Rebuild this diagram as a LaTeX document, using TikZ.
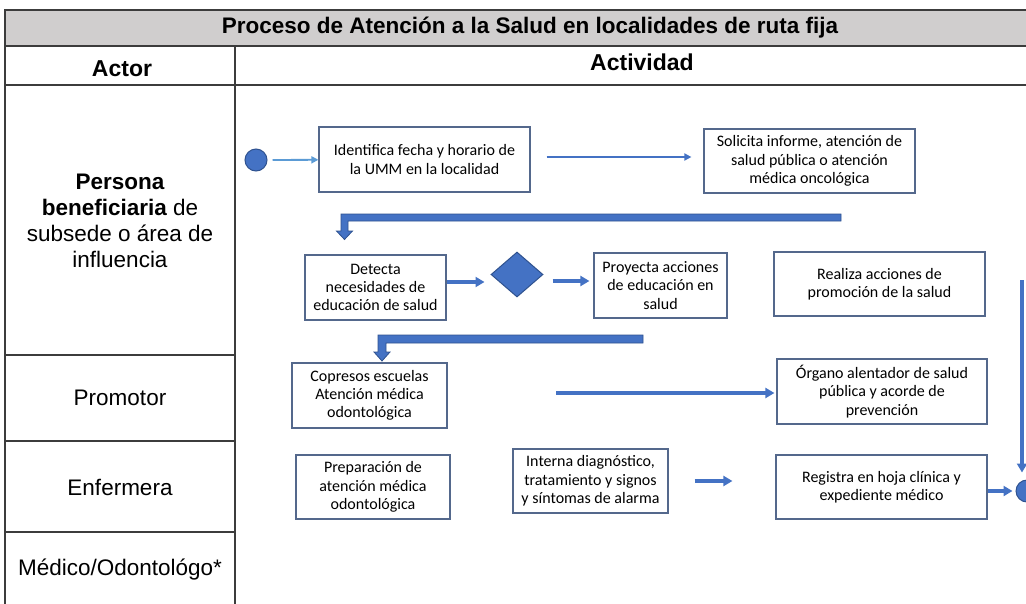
\documentclass[tikz,border=0pt]{standalone}
\usepackage{fontspec}
\setmainfont{Liberation Sans}
\newfontfamily\boxfont{Carlito}
\usetikzlibrary{arrows.meta,shapes.geometric,calc}
\definecolor{hdrgray}{RGB}{208,206,206}
\definecolor{tline}{RGB}{60,60,60}
\definecolor{boxline}{RGB}{84,104,140}
\definecolor{flowblue}{RGB}{68,114,196}
\definecolor{lightblue}{RGB}{91,155,213}
\definecolor{darkblue}{RGB}{47,82,143}
\begin{document}
\begin{tikzpicture}[x=1pt,y=-1pt,
  tbl/.style={draw=tline, line width=1.3pt},
  hdr/.style={font=\bfseries\fontsize{23}{26}\selectfont, inner sep=0pt},
  actorlbl/.style={font=\fontsize{22.5}{26}\selectfont, align=center, inner sep=0pt},
  actbox/.style={draw=boxline, line width=1.2pt, fill=white, align=center,
    font=\boxfont\fontsize{16}{18.3}\selectfont, inner sep=0pt},
  dot/.style={circle, fill=flowblue, draw=darkblue, line width=1pt, minimum size=22pt, inner sep=0pt},
  decision/.style={diamond, fill=flowblue, draw=darkblue, line width=1pt, inner sep=0pt,
    minimum width=52pt, minimum height=45pt},
  thinflow/.style={draw=lightblue, line width=1.8pt, -{Triangle[length=7pt,width=7pt]}},
  midflow/.style={draw=flowblue, line width=2.3pt, -{Triangle[length=7pt,width=7pt]}},
  flow/.style={draw=flowblue, line width=3.5pt, -{Triangle[length=9pt,width=10pt]}},
  blockarrow/.style={fill=flowblue, draw=darkblue, line width=0.8pt, line join=miter}
]
\useasboundingbox (0,0) rectangle (1026,603);
\clip (0,0) rectangle (1026,603);
\fill[white] (0,0) rectangle (1026,603);

% table
\fill[hdrgray] (5,10) rectangle (1040,46);
\draw[tbl, line width=2.2pt] (5,10) -- (1040,10);
\draw[tbl] (5,46) -- (1040,46);
\draw[tbl] (5,85) -- (1040,85);
\draw[tbl] (5,9) -- (5,610);
\draw[tbl] (235,46) -- (235,610);
\draw[tbl] (5,355) -- (235,355);
\draw[tbl] (5,441) -- (235,441);
\draw[tbl] (5,532) -- (235,532);

\node[font=\bfseries\fontsize{22.5}{26}\selectfont, inner sep=0pt, anchor=base] (title) at (530,33)
  {Proceso de Atención a la Salud en localidades de ruta fija};
\node[hdr, anchor=base] (actor) at (122,76) {Actor};
\node[hdr, anchor=base] (activ) at (642,70) {Actividad};

\node[actorlbl] (persona) at (120,221) {\textbf{Persona}\\\textbf{beneficiaria} de\\subsede o área de\\influencia};
\node[actorlbl] (promotor) at (120,398) {Promotor};
\node[actorlbl] (enfermera) at (120,487) {Enfermera};
\node[actorlbl] (medico) at (120,570) {Médico/Odontológo*};

% activity nodes
\node[dot] (start) at (256,160) {};
\node[actbox, minimum width=211pt, minimum height=65pt] (box1) at (424.5,159.5)
  {Identifica fecha y horario de\\la UMM en la localidad};
\node[actbox, minimum width=211pt, minimum height=64pt] (box2) at (809.5,161)
  {Solicita informe, atención de\\salud pública o atención\\médica oncológica};
\node[actbox, minimum width=141pt, minimum height=65pt] (box3) at (375.5,287.5)
  {Detecta\\necesidades de\\educación de salud};
\node[decision] (dia) at (517,274.5) {};
\node[actbox, minimum width=133pt, minimum height=65pt] (box4) at (660.5,285.5)
  {Proyecta acciones\\de educación en\\salud};
\node[actbox, minimum width=211pt, minimum height=64pt] (box5) at (879.5,284)
  {Realiza acciones de\\promoción de la salud};
\node[actbox, minimum width=155pt, minimum height=65pt] (box6) at (369.5,395.5)
  {Copresos escuelas\\Atención médica\\odontológica};
\node[actbox, minimum width=210pt, minimum height=65pt] (box7) at (882,391.5)
  {Órgano alentador de salud\\pública y acorde de\\prevención};
\node[actbox, minimum width=154pt, minimum height=64pt] (box8) at (373,487)
  {Preparación de\\atención médica\\odontológica};
\node[actbox, minimum width=155pt, minimum height=64pt] (box9) at (590.5,481)
  {Interna diagnóstico,\\tratamiento y signos\\y síntomas de alarma};
\node[actbox, minimum width=211pt, minimum height=64pt] (box10) at (881.5,487)
  {Registra en hoja clínica y\\expediente médico};
\node[dot] (endc) at (1027,491) {};

% connectors
\draw[thinflow, shorten <=5pt] (start) -- (box1);
\coordinate (c2s) at ([yshift=2.5pt]box1.east);
\draw[midflow, shorten <=16pt, shorten >=12pt] (c2s) -- (c2s -| box2.west);

% block elbow arrows
\coordinate (e1) at (841,217.5);
\path[blockarrow] (841,214) -- (341,214) -- (341,231) -- (336.5,231) -- (344.5,239.5)
  -- (352.5,231) -- (348,231) -- (348,221) -- (841,221) -- cycle;
\coordinate (e2) at (643,339);
\path[blockarrow] (643,335) -- (378,335) -- (378,352) -- (374,352) -- (382,361)
  -- (390,352) -- (386,352) -- (386,343) -- (643,343) -- cycle;

\coordinate (c4s) at ([yshift=5.5pt]box3.east);
\draw[flow, shorten >=6pt] (c4s) -- (c4s -| dia.west);
\coordinate (c5e) at ([yshift=4.5pt]box4.west);
\draw[flow, shorten <=9pt, shorten >=4pt] (c5e -| dia.east) -- (c5e);

\coordinate (c7s) at (556,393);
\draw[flow, shorten >=2pt] (c7s) -- (c7s -| box7.west);

\draw[flow, shorten <=26pt, shorten >=43pt] (box9.east) -- (box9.east -| box10.west);
\coordinate (c9s) at ([yshift=-4pt]box10.east);
\draw[flow, shorten >=3pt] (c9s) -- (c9s -| endc.west);

\coordinate (c10s) at (1022,280);
\draw[flow, shorten >=7pt] (c10s) -- (c10s |- endc.north);
\end{tikzpicture}
\end{document}
